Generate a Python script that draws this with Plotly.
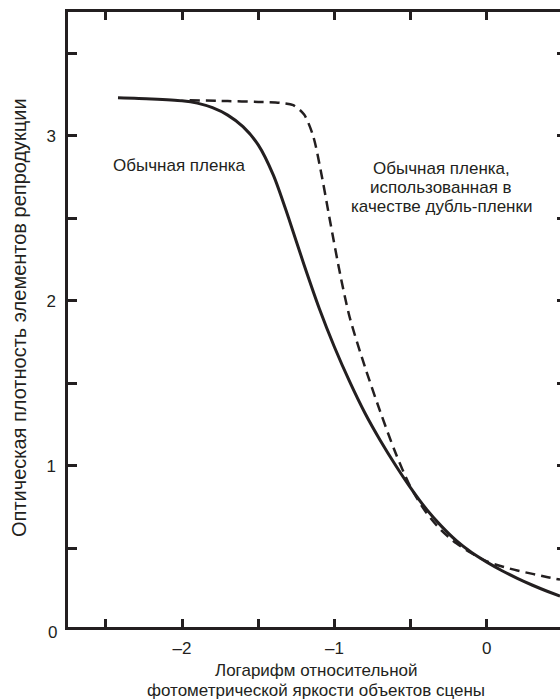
import plotly.graph_objects as go

# --- data ---
solid_x = [-2.42, -2.20, -2.00, -1.90, -1.80, -1.70, -1.60, -1.50, -1.40, -1.30, -1.20, -1.10, -1.00,
           -0.90, -0.80, -0.70, -0.60, -0.50, -0.40, -0.30, -0.20, -0.10, 0.00, 0.10, 0.20, 0.30, 0.40, 0.48]
solid_y = [3.23, 3.223, 3.212, 3.198, 3.17, 3.125, 3.055, 2.945, 2.76, 2.50, 2.22, 1.955, 1.72,
           1.51, 1.32, 1.155, 1.005, 0.866, 0.741, 0.636, 0.546, 0.474, 0.416, 0.364, 0.318, 0.276, 0.238, 0.21]

dash_x = [-1.95, -1.70, -1.50, -1.36, -1.27, -1.20, -1.14, -1.09, -1.03, -0.96, -0.90, -0.80, -0.70,
          -0.60, -0.50, -0.40, -0.30, -0.20, -0.10, 0.00, 0.10, 0.20, 0.30, 0.40, 0.48]
dash_y = [3.215, 3.21, 3.205, 3.20, 3.185, 3.13, 3.00, 2.79, 2.49, 2.15, 1.90, 1.60, 1.33,
          1.08, 0.87, 0.72, 0.61, 0.53, 0.47, 0.42, 0.39, 0.365, 0.345, 0.325, 0.31]

x_tickvals = [-2.5, -2.0, -1.5, -1.0, -0.5, 0.0]
x_ticktext = ["", "\u20132", "", "\u20131", "", "0"]
y_tickvals = [0.5, 1.0, 1.5, 2.0, 2.5, 3.0, 3.5]
y_ticktext = ["", "1", "", "2", "", "3", ""]

y_title = "Оптическая плотность элементов репродукции"
x_title_lines = ["Логарифм относительной", "фотометрической яркости объектов сцены"]
label_solid = "Обычная пленка"
label_dash_lines = ["Обычная пленка,", "использованная в", "качестве дубль-пленки"]

INK = "#231f20"
FONT = "Liberation Sans, Arial, sans-serif"

fig = go.Figure()
fig.add_trace(go.Scatter(x=solid_x, y=solid_y, mode="lines",
                         line=dict(color=INK, width=3, shape="spline", smoothing=0.8),
                         showlegend=False, hoverinfo="skip"))
fig.add_trace(go.Scatter(x=dash_x, y=dash_y, mode="lines",
                         line=dict(color=INK, width=2.5, dash="10px,6px", shape="spline", smoothing=0.8),
                         showlegend=False, hoverinfo="skip"))
# invisible trace to host right-side ticks
fig.add_trace(go.Scatter(x=[None], y=[None], yaxis="y2", showlegend=False, hoverinfo="skip"))

W, H = 560, 699
L, R, T, B = 68, 0, 12, 72
pw, ph = W - L - R, H - T - B

fig.update_layout(
    width=W, height=H,
    margin=dict(l=L, r=R, t=T, b=B),
    paper_bgcolor="white", plot_bgcolor="white",
    font=dict(family=FONT, size=17, color=INK),
    xaxis=dict(range=[-2.748, 0.480], showgrid=False, zeroline=False,
               showline=True, linecolor=INK, linewidth=2.5, mirror="ticks",
               ticks="inside", ticklen=8, tickwidth=2.5, tickcolor=INK,
               tickvals=x_tickvals, ticktext=x_ticktext, ticklabelstandoff=4,
               tickfont=dict(size=17, color=INK, family=FONT)),
    yaxis=dict(range=[0.023, 3.75], showgrid=False, zeroline=False,
               showline=True, linecolor=INK, linewidth=2.5, mirror=False,
               ticks="inside", ticklen=9, tickwidth=2.5, tickcolor=INK,
               tickvals=y_tickvals, ticktext=y_ticktext, ticklabelstandoff=6,
               tickfont=dict(size=17, color=INK, family=FONT)),
    yaxis2=dict(range=[0.023, 3.75], overlaying="y", side="right", showgrid=False,
                zeroline=False, showline=False, ticks="inside", ticklen=3, tickwidth=2.5,
                tickcolor=INK, tickvals=y_tickvals, showticklabels=False),
)

def px_to_paper_x(px):
    return (px - L) / pw

def px_to_paper_y(py):
    return (H - B - py) / ph

ann = []
# "0" label of y axis
ann.append(dict(xref="paper", yref="paper", x=px_to_paper_x(52), y=px_to_paper_y(632), text="0",
                showarrow=False, xanchor="center", yanchor="middle",
                font=dict(size=17, color=INK, family=FONT)))
# y title
ann.append(dict(xref="paper", yref="paper", x=px_to_paper_x(19), y=px_to_paper_y(318),
                text=y_title, textangle=-90, showarrow=False, xanchor="center", yanchor="middle",
                font=dict(size=20, color=INK, family=FONT)))
# x title lines
for line, py in zip(x_title_lines, [670.5, 690]):
    ann.append(dict(xref="paper", yref="paper", x=px_to_paper_x(316), y=px_to_paper_y(py),
                    text=line, showarrow=False, xanchor="center", yanchor="middle",
                    font=dict(size=17, color=INK, family=FONT)))
# curve labels
ann.append(dict(xref="paper", yref="paper", x=px_to_paper_x(179), y=px_to_paper_y(165),
                text=label_solid, showarrow=False, xanchor="center", yanchor="middle",
                font=dict(size=17, color=INK, family=FONT)))
for line, py in zip(label_dash_lines, [169, 187.5, 206]):
    ann.append(dict(xref="paper", yref="paper", x=px_to_paper_x(441), y=px_to_paper_y(py),
                    text=line, showarrow=False, xanchor="center", yanchor="middle",
                    height=18.5, valign="middle",
                    font=dict(size=17, color=INK, family=FONT)))
fig.update_layout(annotations=ann)

fig.write_html("out.html", config={"displayModeBar": False},
               post_script="document.body.style.margin='0';document.body.style.padding='0';document.body.style.overflow='hidden';")
